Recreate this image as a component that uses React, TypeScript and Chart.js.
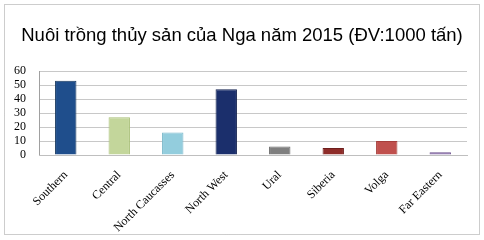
import React, { useEffect, useRef } from "react";
import { Chart, registerables } from "chart.js";

Chart.register(...registerables);

const TITLE = "Nuôi trồng thủy sản của Nga năm 2015 (ĐV:1000 tấn)";
const regions = ["Southern", "Central", "North Caucasses", "North West", "Ural", "Siberia", "Volga", "Far Eastern"];
const output = [53, 27, 16, 47, 6, 5, 10, 2];
const barColors = ["#1F4E8C", "#C3D69B", "#93CDDD", "#1B2F6C", "#7F7F7F", "#8E2C29", "#C0504D", "#8064A2"];
const barBorders = ["#17375E", "#A9C078", "#7AB8CA", "#12214F", "#6A6A6A", "#6E1F1D", "#A53E3B", "#6A4F8C"];
const yMin = 0;
const yMax = 60;
const yStep = 10;

const framePlugin = {
  id: "frame",
  beforeDraw(chart: any) {
    const ctx = chart.ctx;
    ctx.save();
    ctx.fillStyle = "#ffffff";
    ctx.fillRect(0, 0, chart.width, chart.height);
    ctx.strokeStyle = "#9A9A9A";
    ctx.lineWidth = 1;
    ctx.setLineDash([1, 1]);
    ctx.strokeRect(4.5, 4.5, chart.width - 9, chart.height - 10);
    ctx.restore();
  },
  afterDraw(chart: any) {
    const ctx = chart.ctx;
    ctx.save();
    ctx.fillStyle = "#000000";
    ctx.font = "18.5px 'Liberation Sans', Arial, sans-serif";
    ctx.textAlign = "center";
    ctx.textBaseline = "alphabetic";
    ctx.fillText(TITLE, 242, 41);
    ctx.restore();
  },
};

export default function App() {
  const ref = useRef<HTMLCanvasElement>(null);
  useEffect(() => {
    if (!ref.current) return;
    const chart = new Chart(ref.current, {
      type: "bar",
      data: {
        labels: regions,
        datasets: [
          {
            data: output,
            backgroundColor: barColors,
            borderColor: barBorders,
            borderWidth: 1,
            barPercentage: 0.4,
            categoryPercentage: 1,
          },
        ],
      },
      options: {
        animation: false,
        responsive: false,
        layout: { padding: { left: 1, right: 17, top: 71, bottom: 1 } },
        plugins: {
          legend: { display: false },
          tooltip: { enabled: false },
          title: { display: false },
        },
        scales: {
          y: {
            min: yMin,
            max: yMax,
            ticks: {
              stepSize: yStep,
              autoSkip: false,
              color: "#000000",
              font: { family: "Liberation Serif", size: 12 },
              padding: 13,
            },
            grid: { color: "#C8C8C8", drawTicks: false },
            border: { color: "#A0A0A0" },
          },
          x: {
            grid: { display: false },
            ticks: {
              color: "#000000",
              font: { family: "Liberation Serif", size: 12 },
              maxRotation: 45,
              minRotation: 45,
              autoSkip: false,
              padding: 5,
            },
            border: { color: "#BFBFBF" },
          },
        },
      },
      plugins: [framePlugin],
    });
    return () => chart.destroy();
  }, []);
  return (
    <div style={{ position: "absolute", left: 0, top: 0, width: 484, height: 240 }}>
      <canvas ref={ref} width={484} height={240} style={{ display: "block" }} />
    </div>
  );
}
